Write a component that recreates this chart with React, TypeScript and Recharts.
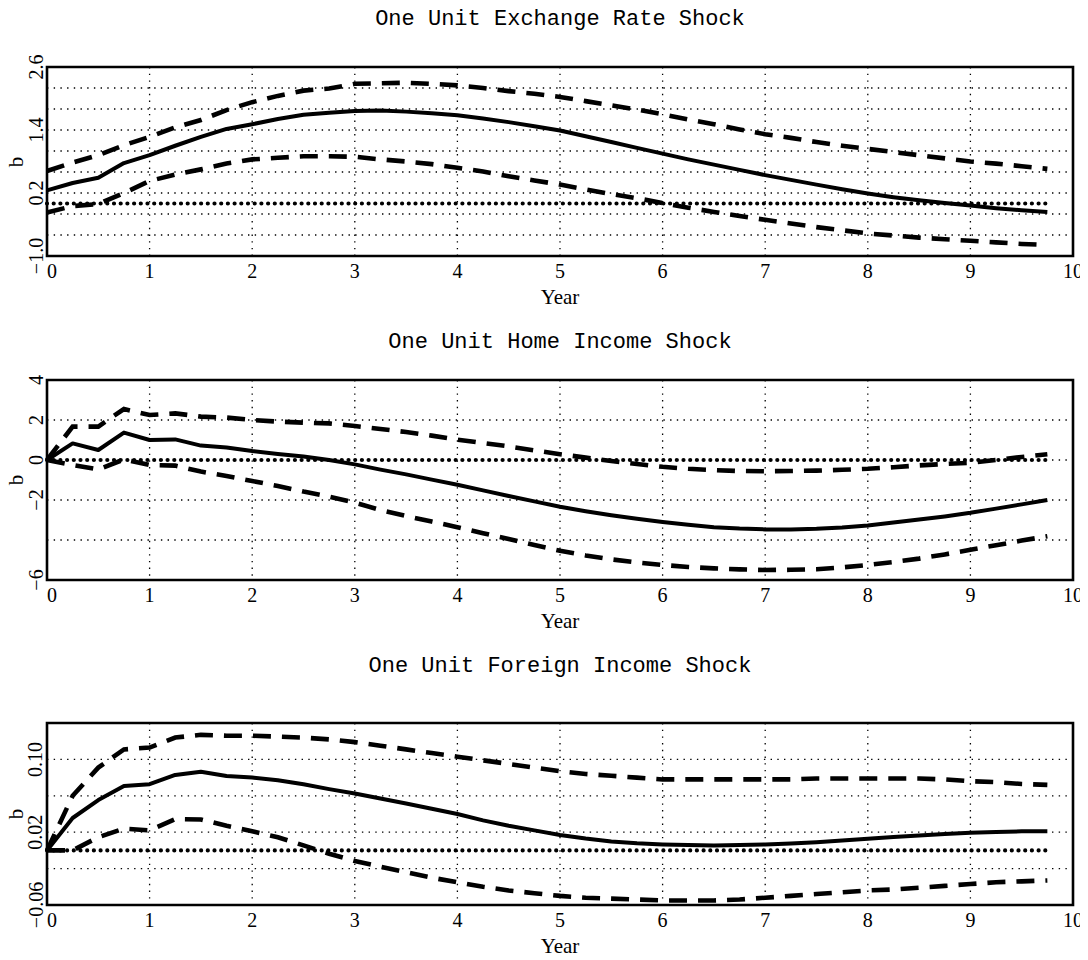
import React from 'react';
import { LineChart, Line, XAxis, YAxis, CartesianGrid, ReferenceArea, ReferenceLine } from 'recharts';

// quarterly horizon, years 0 .. 9.75
const years = [
  0, 0.25, 0.5, 0.75, 1, 1.25, 1.5, 1.75, 2, 2.25, 2.5, 2.75, 3, 3.25, 3.5, 3.75, 4, 4.25, 4.5, 4.75,
  5, 5.25, 5.5, 5.75, 6, 6.25, 6.5, 6.75, 7, 7.25, 7.5, 7.75, 8, 8.25, 8.5, 8.75, 9, 9.25, 9.5, 9.75,
];

const exRateMid = [
  0.25, 0.39, 0.49, 0.77, 0.92, 1.1, 1.27, 1.42, 1.51, 1.61, 1.69, 1.73, 1.76, 1.77, 1.75, 1.72, 1.68, 1.62, 1.55, 1.47,
  1.39, 1.28, 1.17, 1.06, 0.95, 0.84, 0.74, 0.64, 0.54, 0.45, 0.36, 0.27, 0.19, 0.12, 0.06, 0.01, -0.04, -0.09, -0.13, -0.16,
];
const exRateUpper = [
  0.62, 0.78, 0.92, 1.11, 1.27, 1.45, 1.59, 1.78, 1.93, 2.05, 2.15, 2.19, 2.28, 2.29, 2.3, 2.28, 2.25, 2.2, 2.14, 2.09,
  2.03, 1.95, 1.87, 1.79, 1.7, 1.6, 1.51, 1.41, 1.32, 1.25, 1.17, 1.1, 1.04, 0.98, 0.92, 0.86, 0.8, 0.76, 0.71, 0.66,
];
const exRateLower = [
  -0.17, -0.05, -0.01, 0.2, 0.43, 0.55, 0.65, 0.76, 0.84, 0.87, 0.9, 0.9, 0.89, 0.84, 0.8, 0.75, 0.68, 0.61, 0.52, 0.44,
  0.36, 0.27, 0.18, 0.1, 0.01, -0.08, -0.16, -0.24, -0.31, -0.38, -0.45, -0.51, -0.57, -0.61, -0.65, -0.68, -0.71, -0.74, -0.77, -0.79,
];

const homeMid = [
  0, 0.83, 0.5, 1.37, 1.0, 1.03, 0.72, 0.63, 0.45, 0.3, 0.17, 0.0, -0.22, -0.48, -0.72, -0.98, -1.24, -1.52, -1.8, -2.07,
  -2.34, -2.56, -2.76, -2.94, -3.1, -3.24, -3.36, -3.43, -3.47, -3.47, -3.44, -3.37, -3.27, -3.13, -2.98, -2.82, -2.64, -2.43, -2.22, -2.0,
];
const homeUpper = [
  0, 1.67, 1.67, 2.55, 2.25, 2.33, 2.17, 2.12, 2.0, 1.92, 1.87, 1.83, 1.7, 1.55, 1.4, 1.22, 1.02, 0.85, 0.68, 0.48,
  0.29, 0.12, -0.05, -0.2, -0.34, -0.44, -0.51, -0.55, -0.56, -0.55, -0.53, -0.49, -0.44, -0.36, -0.27, -0.2, -0.14, 0.0, 0.15, 0.29,
];
const homeLower = [
  0, -0.25, -0.47, 0.03, -0.25, -0.28, -0.58, -0.8, -1.05, -1.3, -1.58, -1.83, -2.13, -2.5, -2.8, -3.08, -3.36, -3.66, -3.95, -4.25,
  -4.54, -4.77, -4.97, -5.12, -5.25, -5.35, -5.42, -5.47, -5.5, -5.49, -5.46, -5.37, -5.25, -5.1, -4.93, -4.72, -4.49, -4.26, -4.03, -3.81,
];

const foreignMid = [
  0, 0.0356, 0.0553, 0.0709, 0.0727, 0.0829, 0.0865, 0.0818, 0.08, 0.077, 0.0727, 0.0673, 0.0625, 0.057, 0.0515, 0.0458, 0.04, 0.033, 0.027, 0.022,
  0.017, 0.013, 0.0098, 0.0078, 0.0065, 0.0058, 0.0055, 0.0058, 0.0065, 0.0077, 0.009, 0.0108, 0.0127, 0.0146, 0.0164, 0.018, 0.0193, 0.0203, 0.021, 0.021,
];
const foreignUpper = [
  0, 0.06, 0.091, 0.111, 0.113, 0.124, 0.127, 0.126, 0.126, 0.125, 0.124, 0.122, 0.119, 0.115, 0.111, 0.107, 0.103, 0.099, 0.095, 0.091,
  0.087, 0.084, 0.082, 0.08, 0.078, 0.078, 0.078, 0.078, 0.078, 0.078, 0.079, 0.079, 0.079, 0.079, 0.079, 0.078, 0.076, 0.075, 0.073, 0.072,
];
const foreignLower = [
  0, 0, 0.0145, 0.024, 0.022, 0.0345, 0.034, 0.027, 0.021, 0.0145, 0.0055, -0.0036, -0.0116, -0.018, -0.024, -0.03, -0.035, -0.04, -0.044, -0.047,
  -0.05, -0.052, -0.053, -0.054, -0.055, -0.055, -0.055, -0.054, -0.052, -0.05, -0.048, -0.046, -0.044, -0.043, -0.041, -0.039, -0.037, -0.035, -0.034, -0.033,
];

const xTicks = [0, 1, 2, 3, 4, 5, 6, 7, 8, 9, 10];

const exRateTicks = [-1.0, -0.6, -0.2, 0.2, 0.6, 1.0, 1.4, 1.8, 2.2, 2.6];
const exRateLabels = ['\u22121.0', '', '', '0.2', '', '', '1.4', '', '', '2.6'];
const homeTicks = [-6, -4, -2, 0, 2, 4];
const homeLabels = ['\u22126', '', '\u22122', '0', '2', '4'];
const foreignTicks = [-0.06, -0.02, 0.02, 0.06, 0.1, 0.14];
const foreignLabels = ['\u22120.06', '', '0.02', '', '0.10', ''];

const buildRows = (mid: number[], upper: number[], lower: number[]) =>
  years.map((year, i) => ({ year, mid: mid[i], upper: upper[i], lower: lower[i] }));

const TOP_PAD = 24;
const AXIS_H = 30;
const BOTTOM_PAD = 10;

interface PanelProps {
  title: string;
  mid: number[];
  upper: number[];
  lower: number[];
  ticks: number[];
  labels: string[];
  boxTop: number;
  boxBottom: number;
  titleY: number;
}

const Panel: React.FC<PanelProps> = ({ title, mid, upper, lower, ticks, labels, boxTop, boxBottom, titleY }) => {
  const data = buildRows(mid, upper, lower);
  const boxH = boxBottom - boxTop;
  const chartH = boxH + TOP_PAD + AXIS_H + BOTTOM_PAD;
  const plotBottom = TOP_PAD + boxH;
  const yMin = ticks[0];
  const yMax = ticks[ticks.length - 1];

  const XTick = (props: any) => {
    const { x, payload } = props;
    const dx = payload.value === 0 ? 5 : 0;
    return (
      <text x={x + dx} y={plotBottom + 22} textAnchor="middle" fontSize={20} fontFamily="Liberation Serif" fill="#000">
        {payload.value}
      </text>
    );
  };

  const YTick = (props: any) => {
    const { y, index } = props;
    const lx = 42.5;
    return (
      <text
        x={lx}
        y={y}
        transform={`rotate(-90 ${lx} ${y})`}
        textAnchor="middle"
        fontSize={20}
        fontFamily="Liberation Serif"
        fill="#000"
      >
        {labels[index]}
      </text>
    );
  };

  return (
    <>
      <div
        style={{
          position: 'absolute', left: 47, width: 1026, top: titleY - 12, lineHeight: '24px',
          textAlign: 'center', fontFamily: 'Liberation Mono', fontSize: 22, color: '#000', whiteSpace: 'pre',
        }}
      >
        {title}
      </div>
      <div
        style={{
          position: 'absolute', left: 47, width: 1026, top: boxBottom + 30, lineHeight: '22px',
          textAlign: 'center', fontFamily: 'Liberation Serif', fontSize: 21, color: '#000',
        }}
      >
        Year
      </div>
      <div
        style={{
          position: 'absolute', left: 16, top: (boxTop + boxBottom) / 2, lineHeight: '20px',
          transform: 'translate(-50%, -50%) rotate(-90deg)', fontFamily: 'Liberation Serif', fontSize: 21, color: '#000',
        }}
      >
        b
      </div>
      <div style={{ position: 'absolute', left: 0, top: boxTop - TOP_PAD }}>
        <LineChart
          width={1088}
          height={chartH}
          data={data}
          margin={{ top: TOP_PAD, right: 15, bottom: BOTTOM_PAD, left: 7 }}
        >
          <CartesianGrid stroke="#000" strokeWidth={1.3} strokeDasharray="1.4 5.3" />
          <XAxis
            dataKey="year"
            type="number"
            domain={[0, 10]}
            ticks={xTicks}
            height={AXIS_H}
            axisLine={false}
            tickLine={false}
            tick={XTick}
            interval={0}
          />
          <YAxis
            type="number"
            domain={[yMin, yMax]}
            ticks={ticks}
            width={40}
            axisLine={false}
            tickLine={false}
            tick={YTick}
            interval={0}
            allowDataOverflow
          />
          <ReferenceLine
            segment={[{ x: 0, y: 0 }, { x: years[years.length - 1], y: 0 }]}
            stroke="#000"
            strokeWidth={4.2}
            strokeDasharray="0 6.7"
            strokeLinecap="round"
          />
          <Line type="linear" dataKey="upper" stroke="#000" strokeWidth={4.6} strokeDasharray="18 11" dot={false} isAnimationActive={false} />
          <Line type="linear" dataKey="lower" stroke="#000" strokeWidth={4.6} strokeDasharray="18 11" dot={false} isAnimationActive={false} />
          <Line type="linear" dataKey="mid" stroke="#000" strokeWidth={4} strokeLinejoin="round" dot={false} isAnimationActive={false} />
          <ReferenceArea x1={0} x2={10} y1={yMin} y2={yMax} fill="none" fillOpacity={0} stroke="#000" strokeWidth={2.6} />
        </LineChart>
      </div>
    </>
  );
};

export default function App() {
  return (
    <div style={{ position: 'relative', width: 1088, height: 960, margin: '-8px 0 0 -8px', background: '#fff' }}>
      <Panel
        title="One Unit Exchange Rate Shock"
        mid={exRateMid}
        upper={exRateUpper}
        lower={exRateLower}
        ticks={exRateTicks}
        labels={exRateLabels}
        boxTop={67}
        boxBottom={256}
        titleY={20}
      />
      <Panel
        title="One Unit Home Income Shock"
        mid={homeMid}
        upper={homeUpper}
        lower={homeLower}
        ticks={homeTicks}
        labels={homeLabels}
        boxTop={380}
        boxBottom={580}
        titleY={343}
      />
      <Panel
        title="One Unit Foreign Income Shock"
        mid={foreignMid}
        upper={foreignUpper}
        lower={foreignLower}
        ticks={foreignTicks}
        labels={foreignLabels}
        boxTop={723}
        boxBottom={905}
        titleY={667}
      />
    </div>
  );
}
